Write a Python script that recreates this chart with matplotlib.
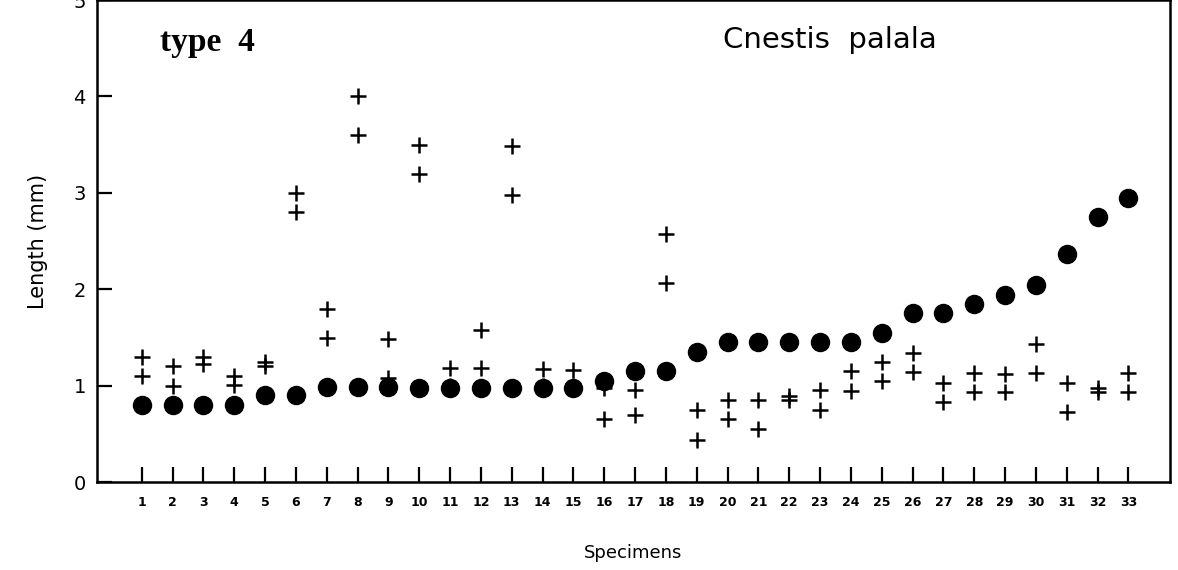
import matplotlib
matplotlib.use('Agg')
import matplotlib.pyplot as plt

# specimen numbers and tick labels
specimens = list(range(1, 34))
tick_labels = [str(s) for s in specimens]

# filled circles (one per specimen)
circle_vals = [0.80, 0.80, 0.80, 0.80, 0.90, 0.90, 0.99, 0.99, 0.99, 0.98,
               0.98, 0.98, 0.98, 0.98, 0.98, 1.05, 1.15, 1.15, 1.35, 1.45,
               1.45, 1.45, 1.45, 1.45, 1.55, 1.75, 1.75, 1.85, 1.94, 2.04,
               2.36, 2.75, 2.95]

# two "+" values per specimen
plus_upper = [1.30, 1.20, 1.30, 1.10, 1.25, 3.00, 1.79, 4.00, 1.48, 3.50,
              1.18, 1.58, 3.49, 1.17, 1.16, 0.97, 0.95, 2.57, 0.75, 0.85,
              0.85, 0.89, 0.95, 1.15, 1.25, 1.34, 1.03, 1.13, 1.12, 1.43,
              1.03, 0.97, 1.13]
plus_lower = [1.10, 1.00, 1.22, 1.01, 1.20, 2.80, 1.49, 3.60, 1.08, 3.20,
              1.00, 1.18, 2.98, 1.00, 1.00, 0.65, 0.70, 2.06, 0.44, 0.65,
              0.55, 0.85, 0.75, 0.94, 1.05, 1.14, 0.83, 0.93, 0.93, 1.13,
              0.73, 0.93, 0.93]

fig = plt.figure(figsize=(11.78, 5.70), dpi=100)
ax = fig.add_axes([97 / 1178, 88 / 570, 1073 / 1178, 482 / 570])

ax.plot(specimens, plus_upper, linestyle='none', marker='+', color='black',
        markersize=12, markeredgewidth=1.8, zorder=2)
ax.plot(specimens, plus_lower, linestyle='none', marker='+', color='black',
        markersize=12, markeredgewidth=1.8, zorder=2)
ax.plot(specimens, circle_vals, linestyle='none', marker='o', color='black',
        markersize=13, zorder=3)

ax.set_xlim(-0.45, 34.35)
ax.set_ylim(0, 4.97)

for side in ['left', 'bottom', 'right', 'top']:
    ax.spines[side].set_linewidth(1.8)

ax.set_xticks(specimens)
ax.set_xticklabels(tick_labels, fontsize=9, fontweight='bold')
ax.set_yticks([0, 1, 2, 3, 4, 5])
ax.set_yticklabels(['0', '1', '2', '3', '4', '5'], fontsize=14)
ax.tick_params(axis='x', direction='in', length=11, width=1.6, pad=10)
ax.tick_params(axis='y', direction='in', length=11, width=1.6, pad=8)

ax.set_xlabel('Specimens', fontsize=13, labelpad=25)
ax.set_ylabel('Length (mm)', fontsize=15, labelpad=18)

fig.text(160 / 1178, 1 - 42 / 570, 'type  4', fontsize=24, fontweight='bold',
         family='Liberation Serif', va='center', ha='left')
fig.text(723 / 1178, 1 - 40 / 570, 'Cnestis  palala', fontsize=21,
         va='center', ha='left')

fig.savefig('out.png', dpi=100)
